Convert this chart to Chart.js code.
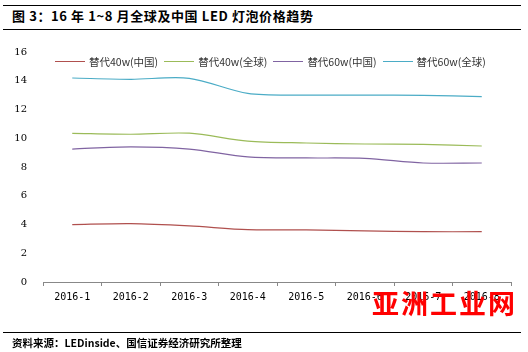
<!DOCTYPE html>
<html>
<head>
<meta charset="utf-8">
<script src="https://cdn.jsdelivr.net/npm/chart.js@4/dist/chart.umd.min.js"></script>
<style>
  body { margin: 0; background: #fff; font-family: "Noto Sans CJK SC", sans-serif; }
  .wrap { position: relative; width: 528px; height: 352px; overflow: hidden; }
  canvas { position: absolute; left: 0; top: 0; }
  .rule { position: absolute; left: 3px; width: 518px; height: 0; border-top: 1px solid #000; }
  .title { position: absolute; left: 12px; top: 6px; font-size: 13px; font-weight: bold; color: #000; letter-spacing: 0.6px; }
  .source { position: absolute; left: 12px; top: 335px; font-size: 10.5px; font-weight: bold; color: #000; }
  .legend { position: absolute; top: 54px; left: 55px; display: flex; font-size: 10.5px; color: #333; }
  .legend span.item { display: flex; align-items: center; margin-right: 6px; }
  .legend i { display: inline-block; width: 30px; height: 1px; margin-right: 4px; }
  .mark { position: absolute; left: 372px; top: 283px; font-size: 27px; font-weight: bold; color: #f00; font-family: "Noto Sans CJK SC"; letter-spacing: 2px; }
</style>
</head>
<body>
<div class="wrap">
  <div class="rule" style="top:5px"></div>
  <div class="title">图 3：16 年 1~8 月全球及中国 LED 灯泡价格趋势</div>
  <div class="rule" style="top:29px"></div>
  <canvas id="myChart" width="528" height="352"></canvas>
  <div class="legend" id="legend"></div>
  <div class="mark">亚洲工业网</div>
  <div class="rule" style="top:332px"></div>
  <div class="source">资料来源：LEDinside、国信证券经济研究所整理</div>
</div>
<script>
let months = ["2016-1", "2016-2", "2016-3", "2016-4", "2016-5", "2016-6", "2016-7", "2016-8"]
let names = ["替代40w(中国)", "替代40w(全球)", "替代60w(中国)", "替代60w(全球)"]
let cn40 = [3.99, 4.06, 3.9, 3.64, 3.63, 3.56, 3.5, 3.5]
let gl40 = [10.34, 10.28, 10.35, 9.8, 9.67, 9.6, 9.57, 9.46]
let cn60 = [9.25, 9.4, 9.25, 8.7, 8.63, 8.6, 8.28, 8.28]
let gl60 = [14.19, 14.1, 14.17, 13.12, 13.0, 13.0, 12.98, 12.9]
let colors = ["#B0504E", "#9BBB59", "#8064A2", "#4BACC6"]

let series = [cn40, gl40, cn60, gl60]

// legend
let legend = document.getElementById("legend")
names.forEach((name, i) => {
    let item = document.createElement("span")
    item.className = "item"
    item.innerHTML = '<i style="background:' + colors[i] + '"></i>' + name
    legend.appendChild(item)
})

let ctx = document.getElementById("myChart").getContext("2d")

new Chart(ctx, {
    type: "line",
    data: {
        labels: months,
        datasets: series.map((data, i) => ({
            label: names[i],
            data: data,
            borderColor: colors[i],
            borderWidth: 1.2,
            pointRadius: 0,
            fill: false,
            tension: 0.3
        }))
    },
    options: {
        responsive: false,
        animation: false,
        layout: { padding: { left: 0, right: 17, top: 52, bottom: 0 } },
        plugins: { legend: { display: false }, tooltip: { enabled: false } },
        scales: {
            x: {
                offset: true,
                afterFit: (scale) => { scale.height = 70 },
                grid: { display: true, drawOnChartArea: false, offset: true, tickLength: 4, color: "#888" },
                border: { display: true, color: "#888" },
                ticks: { color: "#000", padding: 5, maxRotation: 0, font: { family: "DejaVu Sans Mono", size: 10 } }
            },
            y: {
                min: 0,
                max: 16,
                afterFit: (scale) => { scale.width = 43 },
                grid: { display: false },
                border: { display: false },
                ticks: { stepSize: 2, color: "#000", padding: 8, font: { family: "DejaVu Serif", size: 10 } }
            }
        }
    }
})
</script>
</body>
</html>
